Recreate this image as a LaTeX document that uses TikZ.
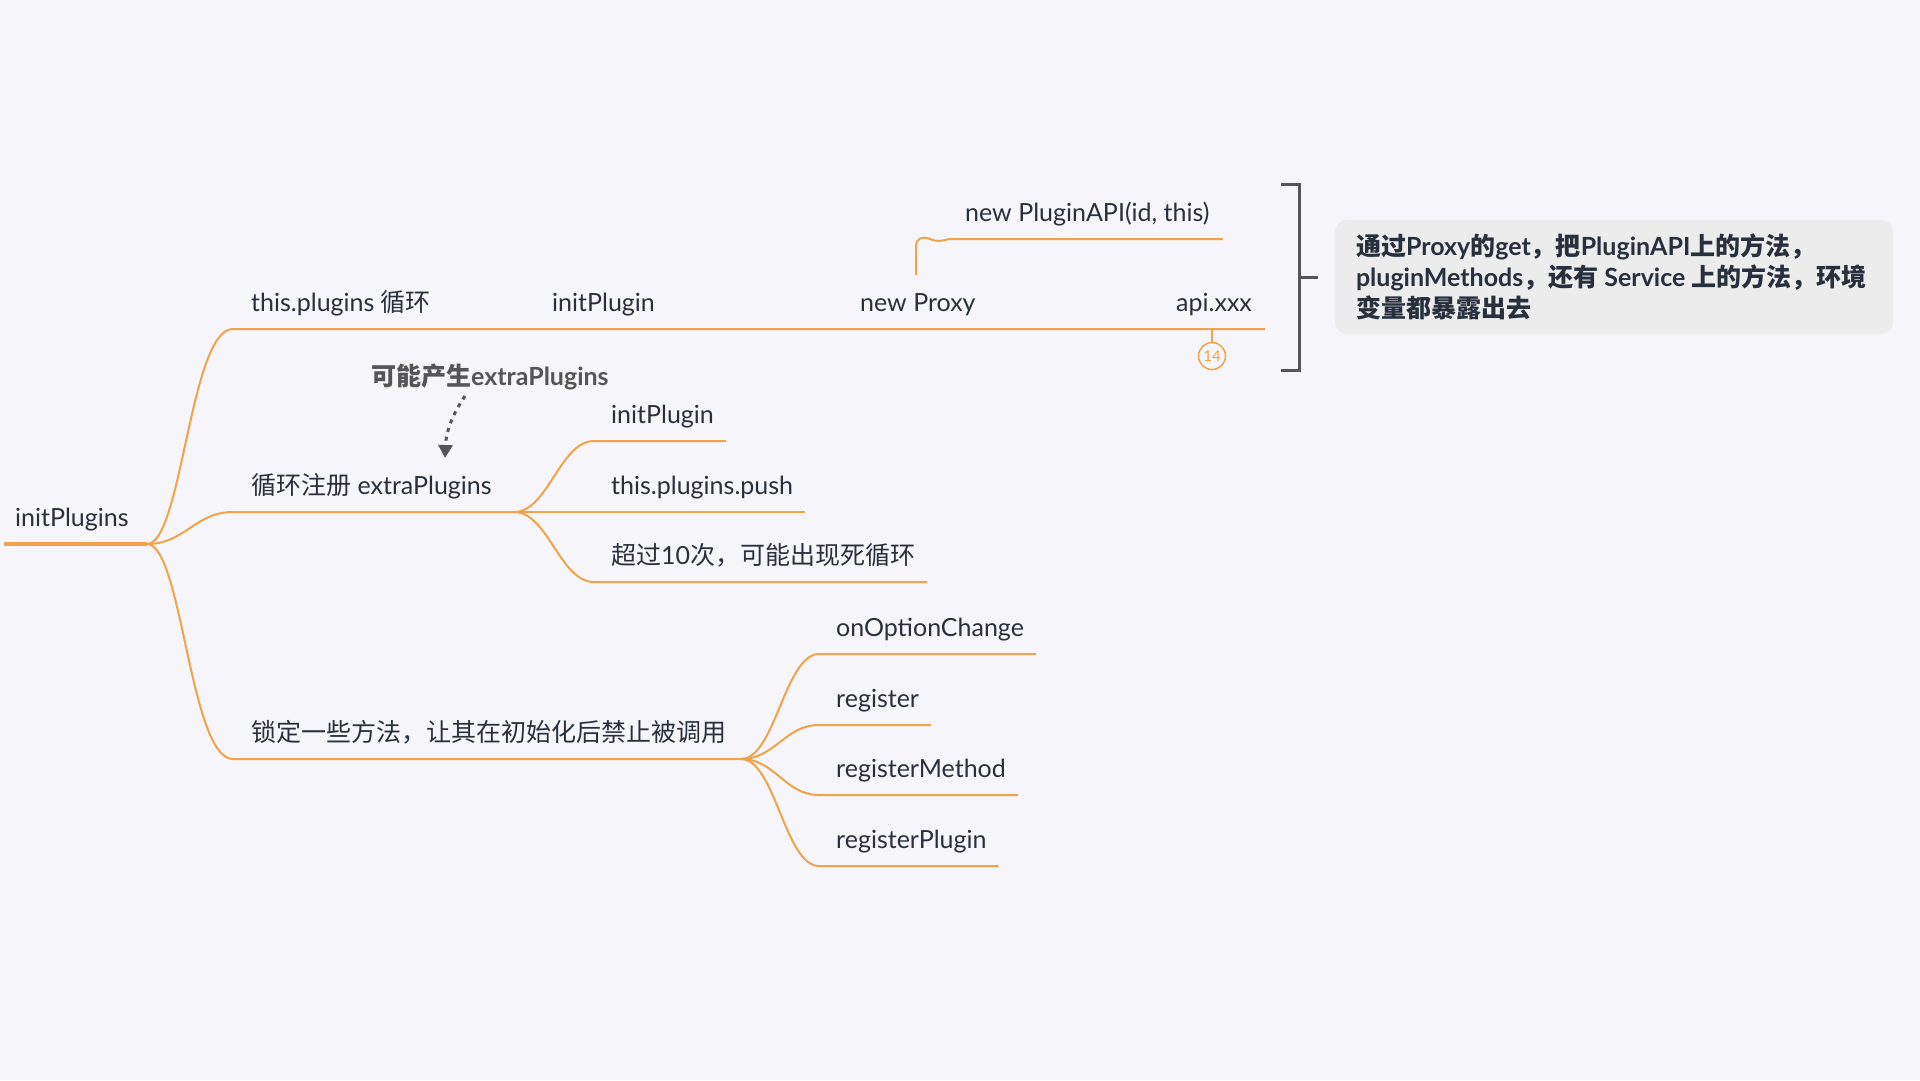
\documentclass[tikz,border=0pt]{standalone}
\usepackage{fontspec}
\setmainfont{Lato}
\newfontfamily\cjk{Noto Sans CJK SC}
\newcommand{\zh}[1]{{\cjk #1}}
\usetikzlibrary{arrows.meta,positioning}
\definecolor{bgpaper}{RGB}{246,246,250}
\definecolor{branch}{RGB}{240,163,75}
\definecolor{inktext}{RGB}{40,48,62}
\definecolor{notefill}{RGB}{236,236,236}
\definecolor{hintgray}{RGB}{85,85,85}
\tikzset{%
	topic/.style    = {text=inktext, font=\fontsize{25}{30}\selectfont, inner sep=0pt, anchor=base west},
	link/.style     = {draw=branch, line width=2pt},
	trunk/.style    = {draw=branch, line width=4pt},
	hint/.style     = {text=hintgray, font=\bfseries\fontsize{25}{30}\selectfont, inner sep=0pt, anchor=base west},
	hintarrow/.style= {draw=hintgray, line width=3pt, dash pattern=on 4pt off 5pt, -{Triangle[width=14pt,length=13pt]}},
	marker/.style   = {draw=branch, line width=1.5pt, circle, minimum size=27pt, inner sep=0pt, text=branch, font=\fontsize{15}{16}\selectfont},
	bracket/.style  = {draw=hintgray, line width=3pt},
	notebox/.style  = {fill=notefill, rounded corners=12pt, minimum width=558pt, minimum height=114pt},
	notetext/.style = {text=inktext, font=\bfseries\fontsize{25}{31}\selectfont, align=left, inner sep=0pt},
}
\begin{document}
\begin{tikzpicture}[x=1pt,y=-1pt]
	% background
	\useasboundingbox[fill=bgpaper] (0,0) rectangle (1920,1080);
	
	% root
	\coordinate (rootstart) at (4,544);
	\coordinate (rootfork) at (147,544);
	\node [topic] (root) at (15,526) {initPlugins};
	\draw[trunk] (rootstart) -- (rootfork);
	
	% this.plugins loop
	\node [topic] (loop) at (251,311) {this.plugins \zh{循环}};
	\node [topic] (initp) at (552,311) {initPlugin};
	\node [topic] (proxy) at (860,311) {new Proxy};
	\node [topic] (apix) at (1176,311) {api.xxx};
	\node [topic] (pluginapi) at (965,221) {new PluginAPI(id, this)};
	\coordinate (proxyfoot) at (916,275);
	\coordinate (apimark) at (1212,329);
	\node [marker] (count) at (1212,356) {14};
	\draw[link] (rootfork) .. controls (182,544) and (190,329) .. ([xshift=-18pt,yshift=-18pt]loop.base west) -- ([xshift=13pt,yshift=-18pt]apix.base east);
	\draw[link] (proxyfoot) -- (916,247) .. controls (916,238) and (922,236) .. (930,239) .. controls (937,242) and (942,241) .. (949,239) -- ([xshift=13pt,yshift=-18pt]pluginapi.base east);
	\draw[link, line width=1.5pt] (apimark) -- (count);
	
	% summary bracket and note
	\coordinate (bracketmid) at (1299,277);
	\draw[bracket] (1281,184) -- (1299,184) -- (1299,370) -- (1281,370);
	\draw[bracket] (bracketmid) -- ++(19,0);
	\node [notebox] (callout) at (1614,277) {};
	\node [notetext, anchor=west] (calltext) at ([xshift=21pt]callout.west) {\zh{通过}Proxy\zh{的}get\zh{，把}PluginAPI\zh{上的方法，}\\pluginMethods\zh{，还有} Service \zh{上的方法，环境}\\\zh{变量都暴露出去}};
	
	% extra plugins
	\node [hint] (hint) at (371,385) {\zh{可能产生}extraPlugins};
	\coordinate (hintfoot) at (465,396);
	\coordinate (hintend) at (445,458);
	\draw[hintarrow] (hintfoot) .. controls (452,415) and (446,432) .. (hintend);
	
	\node [topic] (loopreg) at (251,494) {\zh{循环注册} extraPlugins};
	\coordinate (regfork) at (514,512);
	\draw[link] (rootfork) .. controls (185,544) and (195,512) .. ([xshift=-18pt,yshift=-18pt]loopreg.base west) -- (regfork);
	\node [topic] (reginit) at (611,423) {initPlugin};
	\node [topic] (regpush) at (611,494) {this.plugins.push};
	\node [topic] (regloop) at (611,564) {\zh{超过}10\zh{次，可能出现死循环}};
	\draw[link] (regfork) .. controls (548,512) and (560,441) .. ([xshift=-17pt,yshift=-18pt]reginit.base west) -- ([xshift=12pt,yshift=-18pt]reginit.base east);
	\draw[link] (regfork) -- ([xshift=12pt,yshift=-18pt]regpush.base east);
	\draw[link] (regfork) .. controls (548,512) and (560,582) .. ([xshift=-17pt,yshift=-18pt]regloop.base west) -- ([xshift=12pt,yshift=-18pt]regloop.base east);
	
	% locked methods
	\node [topic] (lock) at (251,741) {\zh{锁定一些方法，让其在初始化后禁止被调用}};
	\coordinate (lockfork) at (741,759);
	\draw[link] (rootfork) .. controls (182,544) and (190,759) .. ([xshift=-18pt,yshift=-18pt]lock.base west) -- (lockfork);
	\node [topic] (optchange) at (836,636) {onOptionChange};
	\node [topic] (register) at (836,707) {register};
	\node [topic] (regmethod) at (836,777) {registerMethod};
	\node [topic] (regplugin) at (836,848) {registerPlugin};
	\draw[link] (lockfork) .. controls (775,759) and (785,654) .. ([xshift=-17pt,yshift=-18pt]optchange.base west) -- ([xshift=12pt,yshift=-18pt]optchange.base east);
	\draw[link] (lockfork) .. controls (775,759) and (785,725) .. ([xshift=-17pt,yshift=-18pt]register.base west) -- ([xshift=12pt,yshift=-18pt]register.base east);
	\draw[link] (lockfork) .. controls (775,759) and (785,795) .. ([xshift=-17pt,yshift=-18pt]regmethod.base west) -- ([xshift=12pt,yshift=-18pt]regmethod.base east);
	\draw[link] (lockfork) .. controls (775,759) and (785,866) .. ([xshift=-17pt,yshift=-18pt]regplugin.base west) -- ([xshift=12pt,yshift=-18pt]regplugin.base east);
\end{tikzpicture}
\end{document}
